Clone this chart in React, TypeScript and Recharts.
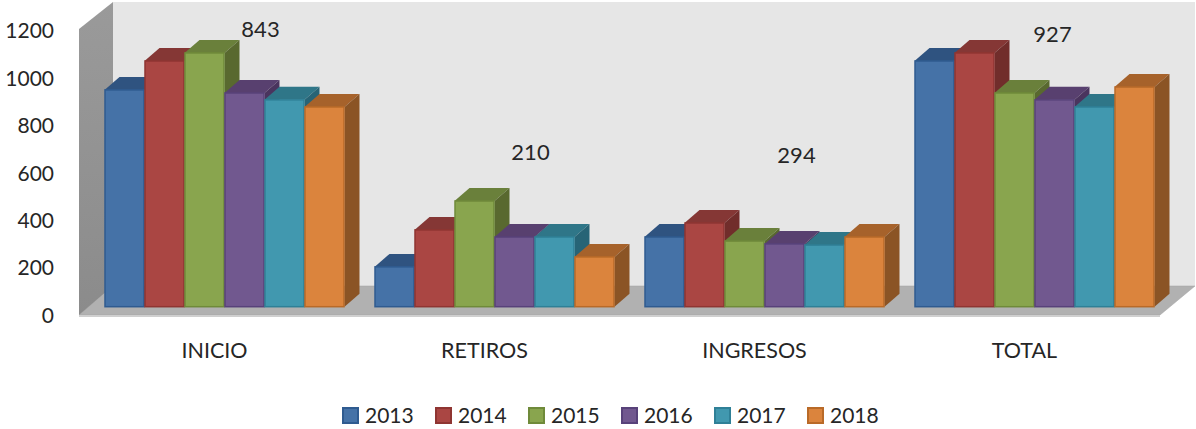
import { BarChart, Bar, XAxis, YAxis, Legend, LabelList, Customized } from "recharts";

const categories = ["INICIO", "RETIROS", "INGRESOS", "TOTAL"];
const years = ["2013", "2014", "2015", "2016", "2017", "2018"];

const values2013 = [915, 168, 294, 1037];
const values2014 = [1037, 324, 353, 1071];
const values2015 = [1071, 446, 277, 902];
const values2016 = [902, 294, 265, 873];
const values2017 = [873, 294, 260, 843];
const values2018 = [843, 210, 294, 927];
const seriesValues = [values2013, values2014, values2015, values2016, values2017, values2018];

const yTicks = [0, 200, 400, 600, 800, 1000, 1200];

const FRONT = ["#4572a7", "#aa4643", "#89a54e", "#71588f", "#4198af", "#db843d"];
const EDGE = ["#2f5b90", "#8f3532", "#6f8a3a", "#58427a", "#2f8097", "#b96a28"];
const TOP = ["#2f5380", "#853735", "#6a803b", "#58406f", "#2f7688", "#a6622b"];
const SIDE = ["#2c4d75", "#712d2b", "#59692f", "#4a345e", "#276476", "#8b5425"];

const FONT = "Lato, sans-serif";
const TEXT = "#262626";
const DEPTH_X = 15;
const DEPTH_Y = 13;

// the stray labels sit away from their bars in the original
const labelOffsets = [
  { dx: -64, dy: -78 },
  { dx: -64, dy: -105 },
  { dx: -68, dy: -83 },
  { dx: -82, dy: -54 },
];

const data = categories.map((name, i) => {
  const row: Record<string, string | number> = { name };
  years.forEach((y, s) => {
    row[y] = seriesValues[s][i];
  });
  return row;
});

function Walls() {
  return (
    <g>
      <defs>
        <linearGradient id="sideWall" x1="0" y1="0" x2="0" y2="1">
          <stop offset="0%" stopColor="#9a9a9a" />
          <stop offset="100%" stopColor="#8b8b8b" />
        </linearGradient>
      </defs>
      <polygon points="113,2 1195,2 1195,286 113,286" fill="#e6e6e6" />
      <polygon points="79,29 113,2 113,286 79,316" fill="url(#sideWall)" />
      <polygon points="79,315 113,286 1195,286 1160,315" fill="#b1b1b1" stroke="#a2a2a2" strokeWidth={0.5} />
      <rect x={79} y={315} width={1081} height={2} fill="#cfcfcf" />
    </g>
  );
}

function Box3D(props: any, s: number) {
  const { x, y, width, height } = props;
  const r = x + width;
  const b = y + height;
  return (
    <g>
      <polygon
        points={`${x},${y} ${x + DEPTH_X},${y - DEPTH_Y} ${r + DEPTH_X},${y - DEPTH_Y} ${r},${y}`}
        fill={TOP[s]}
      />
      <polygon
        points={`${r},${y} ${r + DEPTH_X},${y - DEPTH_Y} ${r + DEPTH_X},${b - DEPTH_Y} ${r},${b}`}
        fill={SIDE[s]}
      />
      <rect x={x + 0.5} y={y} width={width - 1} height={height} fill={FRONT[s]} stroke={EDGE[s]} strokeWidth={1.5} />
    </g>
  );
}

function OffsetLabel(props: any) {
  const { x, y, width, value, index } = props;
  const off = labelOffsets[index];
  return (
    <text
      x={x + width / 2 + off.dx}
      y={y + off.dy}
      textAnchor="middle"
      dominantBaseline="central"
      fontFamily={FONT}
      fontSize={22}
      fill={TEXT}
    >
      {value}
    </text>
  );
}

function LegendRow(props: any) {
  const { payload } = props;
  return (
    <div style={{ display: "flex", fontFamily: FONT, fontSize: 21, color: TEXT, lineHeight: "24px" }}>
      {payload.map((p: any, i: number) => (
        <div key={p.value} style={{ width: 93, display: "flex", alignItems: "center" }}>
          <span
            style={{
              width: 13,
              height: 13,
              background: FRONT[i],
              border: `2px solid ${EDGE[i]}`,
              marginRight: 6,
              display: "inline-block",
            }}
          />
          {p.value}
        </div>
      ))}
    </div>
  );
}

export default function App() {
  return (
    <div style={{ position: "absolute", left: 0, top: 0, width: 1196, height: 429, background: "#fff" }}>
      <BarChart
        width={1196}
        height={429}
        data={data}
        margin={{ top: 22.4, right: 26.5, bottom: 48.3, left: 0 }}
        barSize={40}
        barGap={0}
      >
        <Customized component={Walls} />
        <XAxis
          dataKey="name"
          axisLine={false}
          tickLine={false}
          tickMargin={30}
          height={50}
          tick={{ fontFamily: FONT, fontSize: 21.5, fill: TEXT, dx: -10 }}
        />
        <YAxis
          width={89.5}
          domain={[0, 1200]}
          ticks={yTicks}
          axisLine={false}
          tickLine={false}
          tickMargin={29.5}
          tick={{ fontFamily: FONT, fontSize: 21, fill: TEXT, dy: 8.5 }}
        />
        <Legend
          layout="horizontal"
          verticalAlign="bottom"
          align="left"
          content={LegendRow}
          wrapperStyle={{ position: "absolute", left: 342, top: 403, bottom: "auto", width: 560 }}
        />
        {years.map((y, s) => (
          <Bar key={y} dataKey={y} fill={FRONT[s]} isAnimationActive={false} shape={(p: any) => Box3D(p, s)}>
            {s === years.length - 1 && <LabelList dataKey={y} content={OffsetLabel} />}
          </Bar>
        ))}
      </BarChart>
    </div>
  );
}
